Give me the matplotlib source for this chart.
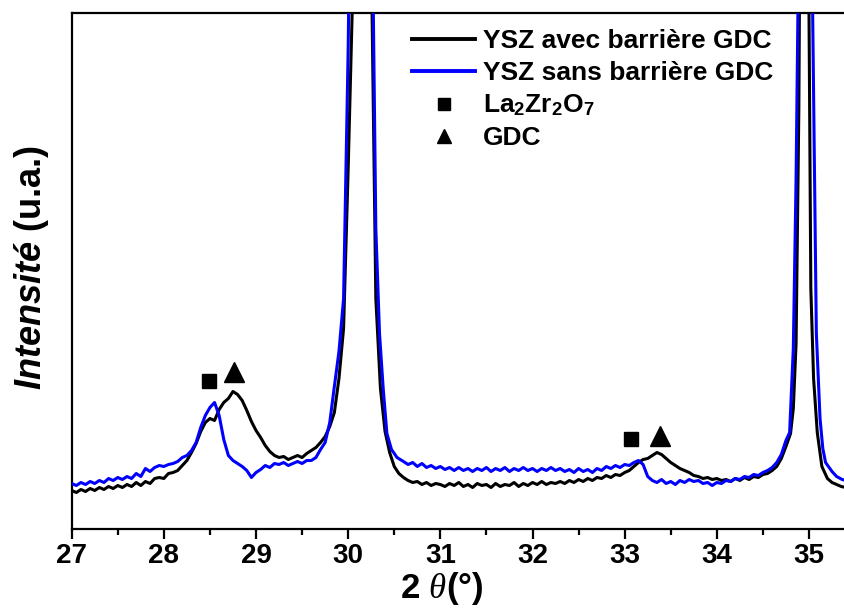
import matplotlib
matplotlib.use("Agg")
import matplotlib.pyplot as plt
from matplotlib.lines import Line2D
from matplotlib.font_manager import FontProperties
from matplotlib.ticker import MultipleLocator

plt.rcParams['font.family'] = ['Liberation Sans', 'DejaVu Sans']
plt.rcParams['mathtext.fontset'] = 'custom'
plt.rcParams['mathtext.rm'] = 'Liberation Sans:bold'
plt.rcParams['mathtext.it'] = 'Liberation Serif:italic'
plt.rcParams['mathtext.sf'] = 'Liberation Sans:italic:bold'

# ---- data (2theta in degrees, intensity in arbitrary units) ----
black_x = [27.00, 27.05, 27.10, 27.15, 27.20, 27.25, 27.30, 27.35, 27.40, 27.45,
           27.50, 27.55, 27.60, 27.65, 27.70, 27.75, 27.80, 27.85, 27.90, 27.95,
           28.00, 28.05, 28.10, 28.15, 28.20, 28.25, 28.30, 28.35, 28.40, 28.45,
           28.50, 28.55, 28.60, 28.65, 28.70, 28.75, 28.80, 28.85, 28.90, 28.95,
           29.00, 29.05, 29.10, 29.15, 29.20, 29.25, 29.30, 29.35, 29.40, 29.45,
           29.50, 29.55, 29.60, 29.65, 29.70, 29.75, 29.80, 29.85, 29.90, 29.95,
           30.00, 30.05, 30.10, 30.15, 30.20, 30.25, 30.30, 30.35, 30.40, 30.45,
           30.50, 30.55, 30.60, 30.65, 30.70, 30.75, 30.80, 30.85, 30.90, 30.95,
           31.00, 31.05, 31.10, 31.15, 31.20, 31.25, 31.30, 31.35, 31.40, 31.45,
           31.50, 31.55, 31.60, 31.65, 31.70, 31.75, 31.80, 31.85, 31.90, 31.95,
           32.00, 32.05, 32.10, 32.15, 32.20, 32.25, 32.30, 32.35, 32.40, 32.45,
           32.50, 32.55, 32.60, 32.65, 32.70, 32.75, 32.80, 32.85, 32.90, 32.95,
           33.00, 33.05, 33.10, 33.15, 33.20, 33.25, 33.30, 33.35, 33.40, 33.45,
           33.50, 33.55, 33.60, 33.65, 33.70, 33.75, 33.80, 33.85, 33.90, 33.95,
           34.00, 34.05, 34.10, 34.15, 34.20, 34.25, 34.30, 34.35, 34.40, 34.45,
           34.50, 34.55, 34.60, 34.65, 34.70, 34.75, 34.80, 34.83, 34.86, 34.89,
           34.92, 34.96, 35.00, 35.02, 35.05, 35.09, 35.14, 35.20, 35.25, 35.30,
           35.35, 35.40]
black_y = [38, 36, 39, 37, 40, 38, 41, 39, 42, 40,
           43, 41, 44, 42, 46, 43, 47, 45, 50, 51,
           50, 55, 56, 58, 63, 68, 76, 85, 97, 106,
           110, 108, 119, 126, 130, 137, 134, 128, 118, 107,
           98, 91, 83, 77, 73, 71, 72, 69, 71, 73,
           71, 75, 78, 81, 86, 92, 102, 116, 150, 200,
           360, 540, 900, 1000, 900, 580, 230, 140, 97, 76,
           62, 55, 51, 48, 46, 47, 44, 46, 43, 45,
           44, 42, 45, 43, 46, 42, 44, 41, 45, 43,
           44, 41, 45, 42, 44, 43, 46, 42, 45, 43,
           46, 44, 47, 44, 46, 45, 47, 45, 48, 46,
           49, 47, 50, 48, 51, 50, 53, 51, 54, 53,
           56, 58, 62, 66, 69, 70, 73, 76, 74, 70,
           66, 63, 60, 58, 56, 53, 52, 50, 51, 49,
           50, 48, 49, 47, 50, 48, 51, 49, 52, 51,
           54, 55, 58, 62, 70, 82, 95, 120, 185, 420,
           900, 1000, 520, 240, 150, 96, 62, 50, 46, 44,
           42, 41]

blue_x = [27.00, 27.05, 27.10, 27.15, 27.20, 27.25, 27.30, 27.35, 27.40, 27.45,
          27.50, 27.55, 27.60, 27.65, 27.70, 27.75, 27.80, 27.85, 27.90, 27.95,
          28.00, 28.05, 28.10, 28.15, 28.20, 28.25, 28.30, 28.35, 28.40, 28.45,
          28.50, 28.55, 28.60, 28.65, 28.70, 28.75, 28.80, 28.85, 28.90, 28.95,
          29.00, 29.05, 29.10, 29.15, 29.20, 29.25, 29.30, 29.35, 29.40, 29.45,
          29.50, 29.55, 29.60, 29.65, 29.70, 29.75, 29.80, 29.85, 29.90, 29.95,
          30.00, 30.05, 30.10, 30.15, 30.20, 30.25, 30.30, 30.34, 30.38, 30.42,
          30.47, 30.53, 30.60, 30.65, 30.70, 30.75, 30.80, 30.85, 30.90, 30.95,
          31.00, 31.05, 31.10, 31.15, 31.20, 31.25, 31.30, 31.35, 31.40, 31.45,
          31.50, 31.55, 31.60, 31.65, 31.70, 31.75, 31.80, 31.85, 31.90, 31.95,
          32.00, 32.05, 32.10, 32.15, 32.20, 32.25, 32.30, 32.35, 32.40, 32.45,
          32.50, 32.55, 32.60, 32.65, 32.70, 32.75, 32.80, 32.85, 32.90, 32.95,
          33.00, 33.05, 33.10, 33.15, 33.20, 33.25, 33.30, 33.35, 33.40, 33.45,
          33.50, 33.55, 33.60, 33.65, 33.70, 33.75, 33.80, 33.85, 33.90, 33.95,
          34.00, 34.05, 34.10, 34.15, 34.20, 34.25, 34.30, 34.35, 34.40, 34.45,
          34.50, 34.55, 34.60, 34.65, 34.70, 34.75, 34.79, 34.83, 34.86, 34.89,
          34.93, 34.98, 35.02, 35.04, 35.08, 35.12, 35.15, 35.18, 35.25, 35.30,
          35.36, 35.40]
blue_y = [45, 43, 46, 44, 47, 45, 48, 46, 50, 48,
          51, 49, 52, 50, 55, 52, 60, 57, 61, 63,
          62, 64, 65, 67, 71, 73, 78, 86, 101, 113,
          121, 126, 113, 89, 73, 68, 65, 62, 58, 51,
          56, 59, 63, 61, 65, 64, 66, 63, 65, 67,
          65, 68, 68, 71, 79, 86, 106, 142, 177, 230,
          480, 850, 1000, 1050, 950, 700, 300, 195, 140, 95,
          79, 71, 67, 64, 66, 62, 65, 61, 63, 60,
          62, 59, 61, 58, 61, 58, 60, 57, 60, 58,
          61, 57, 60, 58, 61, 57, 60, 58, 61, 58,
          60, 57, 60, 58, 61, 58, 60, 57, 59, 56,
          60, 57, 59, 56, 60, 58, 62, 60, 63, 61,
          64, 63, 66, 68, 64, 52, 48, 46, 49, 45,
          47, 44, 48, 46, 49, 47, 48, 45, 46, 43,
          46, 45, 48, 47, 50, 49, 52, 51, 54, 53,
          56, 58, 61, 66, 74, 88, 96, 180, 350, 600,
          1000, 1050, 800, 515, 195, 110, 80, 66, 57, 52,
          49, 48]

la2zr2o7_x = [28.49, 33.07]
la2zr2o7_y = [148, 90]
gdc_x = [28.76, 33.38]
gdc_y = [157, 93]

labels = ["YSZ avec barrière GDC", "YSZ sans barrière GDC",
          r"La$_2$Zr$_2$O$_7$", "GDC"]
xticks = [27, 28, 29, 30, 31, 32, 33, 34, 35]

# ---- figure ----
W, H = 845, 608
fig = plt.figure(figsize=(W / 100, H / 100), dpi=100)
left_px, right_px, top_px, bottom_px = 71.7, 845, 13, 528.5
ax = fig.add_axes([left_px / W, 1 - bottom_px / H,
                   (right_px - left_px) / W, (bottom_px - top_px) / H])

ax.plot(black_x, black_y, color='black', lw=2.2, zorder=3)
ax.plot(blue_x, blue_y, color='#0000ff', lw=2.2, zorder=4)
ax.plot(la2zr2o7_x, la2zr2o7_y, ls='none', marker='s', ms=10, color='black', zorder=5)
ax.plot(gdc_x, gdc_y, ls='none', marker='^', ms=14, color='black', zorder=5)

ax.set_xlim(27, 27 + (right_px - left_px) / 92.16)
ax.set_ylim(0, bottom_px - top_px)
ax.set_xticks(xticks)
ax.xaxis.set_minor_locator(MultipleLocator(0.5))
ax.set_yticks([])
ax.spines['right'].set_visible(False)
for s in ['left', 'top', 'bottom']:
    ax.spines[s].set_linewidth(1.6)
ax.tick_params(axis='x', which='major', direction='out', length=7.5, width=1.6,
               pad=3, labelsize=20)
ax.tick_params(axis='x', which='minor', direction='out', length=4, width=1.6)
for lab in ax.get_xticklabels():
    lab.set_fontweight('bold')

fig.text(442 / W, 1 - 607 / H, r"2 $\theta$(°)", ha='center', va='bottom',
         fontsize=25, fontweight='bold')
fig.text(32 / W, 1 - 267 / H, r"$\mathsf{Intensité}$ (u.a.)", rotation=90,
         ha='center', va='center', fontsize=26, fontweight='bold')

handles = [Line2D([], [], color='black', lw=2.8),
           Line2D([], [], color='#0000ff', lw=2.8),
           Line2D([], [], color='black', marker='s', ls='none', ms=8),
           Line2D([], [], color='black', marker='^', ls='none', ms=10)]
ax.legend(handles, labels, loc='upper left', bbox_to_anchor=(0.44, 0.969),
          frameon=False, prop=FontProperties(family='Liberation Sans', weight='bold', size=19),
          handlelength=2.4, handletextpad=0.3, labelspacing=0.3,
          borderaxespad=0, borderpad=0)

fig.savefig("out.png", dpi=100)
